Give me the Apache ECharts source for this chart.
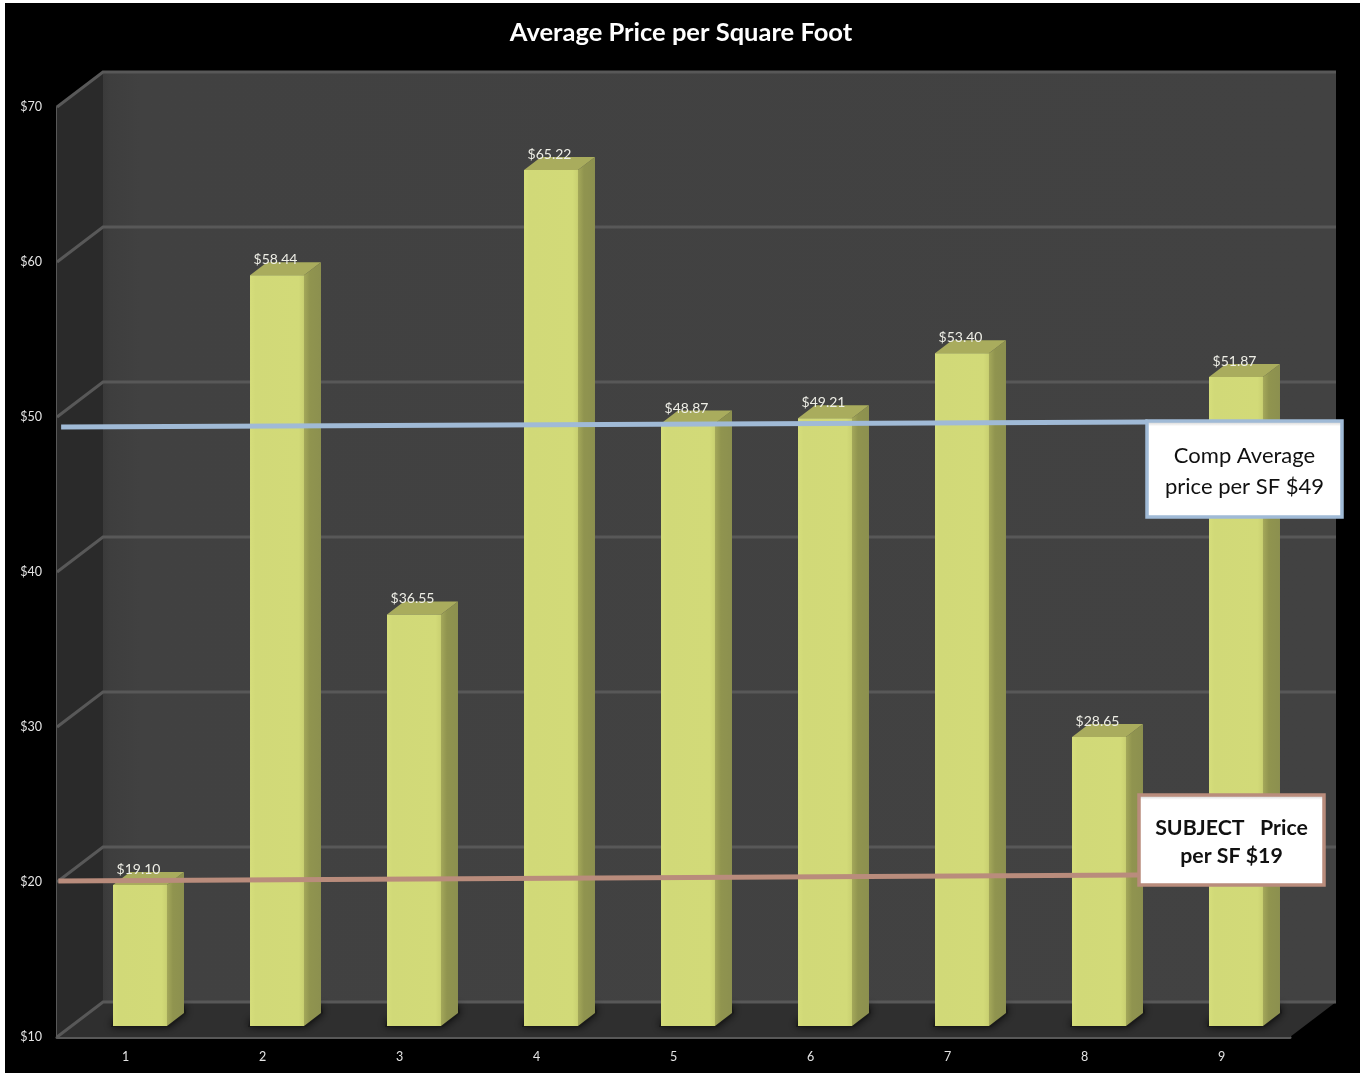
<!DOCTYPE html>
<html>
<head>
<meta charset="utf-8">
<style>
  html, body { margin: 0; padding: 0; background: #fff; }
  #chart { width: 1362px; height: 1074px; }
</style>
<script src="https://cdn.jsdelivr.net/npm/echarts@6/dist/echarts.min.js"></script>
</head>
<body>
<div id="chart"></div>
<script>
// Price per square foot for the nine comparables
const categories = ['1', '2', '3', '4', '5', '6', '7', '8', '9'];
const pricePerSf = [19.10, 58.44, 36.55, 65.22, 48.87, 49.21, 53.40, 28.65, 51.87];
const valueTicks = [10, 20, 30, 40, 50, 60, 70];

// Overlaid reference lines: [position along the categories, price]
const compAverageLine = [[0.03, 49.35], [7.96, 49.68]];
const subjectLine = [[0.01, 20.06], [7.89, 20.45]];

const chartTitle = 'Average Price per Square Foot';
const compLabel = ['Comp Average', 'price per SF $49'];
const subjectLabel = ['SUBJECT   Price', 'per SF $19'];

const FONT = 'Lato, "Open Sans", sans-serif';

// Box depth of the chart room and of each bar, in pixels
const ROOM = { dx: 46, dy: -35 };
const BAR = { dx: 17, dy: -13, shiftX: 14.5, shiftY: -11, widthRatio: 0.394 };

function poly(points, style, z2) {
  return { type: 'polygon', shape: { points }, style, z2: z2 || 0, silent: true };
}

// Left wall, floor and back wall of the room
function renderRoom(params) {
  const c = params.coordSys;
  const l = c.x, r = c.x + c.width, t = c.y, b = c.y + c.height;
  const d = ROOM;
  return {
    type: 'group',
    children: [
      poly([[l + d.dx, t + d.dy], [r + d.dx, t + d.dy], [r + d.dx, b + d.dy], [l + d.dx, b + d.dy]], {
        fill: { type: 'linear', x: 0, y: 0, x2: 1, y2: 0, colorStops: [
          { offset: 0, color: '#3a3a3a' }, { offset: 0.006, color: '#3e3e3e' }, { offset: 0.03, color: '#414141' }, { offset: 1, color: '#424242' }
        ] }
      }),
      poly([[l, t], [l + d.dx, t + d.dy], [l + d.dx, b + d.dy], [l, b]], { fill: '#2a2a2a' }, 1),
      poly([[l, b], [l + d.dx, b + d.dy], [r + d.dx, b + d.dy], [r, b]], { fill: '#2f2f2f' }, 1)
    ]
  };
}

// One gridline per tick, wrapping across the left wall and the back wall
function renderGridline(params, api) {
  const c = params.coordSys;
  const y = api.coord([0, api.value(0)])[1];
  const d = ROOM;
  return {
    type: 'polyline',
    silent: true,
    shape: { points: [[c.x, y], [c.x + d.dx, y + d.dy], [c.x + c.width + d.dx, y + d.dy]] },
    style: { stroke: '#585858', lineWidth: 3, fill: null }
  };
}

// A bar is a front face, a side face, a top face and its value label
function renderBar(params, api) {
  const idx = api.value(0);
  const val = api.value(1);
  const base = api.coord([idx, 10]);
  const top = api.coord([idx, val]);
  const w = api.size([1, 0])[0] * BAR.widthRatio;
  const x0 = base[0] + BAR.shiftX - w / 2, x1 = x0 + w;
  const yb = base[1] + BAR.shiftY, yt = top[1] + BAR.shiftY;
  const dx = BAR.dx, dy = BAR.dy;
  return {
    type: 'group',
    children: [
      // soft contact shadow on the floor
      poly([[x0 - 2, yb + 1], [x1 + 2, yb + 1], [x1 + dx + 2, yb + dy], [x1 + dx, yb + dy - 8], [x0, yb - 6]],
        { fill: '#1a1a1a', shadowBlur: 9, shadowColor: 'rgba(0,0,0,0.8)' }),
      poly([[x1, yt], [x1 + dx, yt + dy], [x1 + dx, yb + dy], [x1, yb]], {
        fill: { type: 'linear', x: 0, y: 0, x2: 1, y2: 0, colorStops: [
          { offset: 0, color: '#a4a85a' }, { offset: 0.35, color: '#90944f' }, { offset: 1, color: '#8c904f' }
        ] }
      }, 1),
      poly([[x0, yt], [x0 + dx, yt + dy], [x1 + dx, yt + dy], [x1, yt]], { fill: '#a9ac5d' }, 1),
      poly([[x0, yt], [x1, yt], [x1, yb], [x0, yb]], {
        fill: { type: 'linear', x: 0, y: 0, x2: 1, y2: 0, colorStops: [
          { offset: 0, color: '#d6de7b' }, { offset: 0.1, color: '#d1d978' }, { offset: 0.9, color: '#d2da78' }, { offset: 1, color: '#c9d071' }
        ] }
      }, 2),
      {
        type: 'text',
        silent: true,
        z2: 3,
        style: {
          text: '$' + val.toFixed(2),
          x: (x0 + x1) / 2 - 1.5,
          y: yt - 15.5,
          align: 'center',
          verticalAlign: 'middle',
          fill: '#eeeee6',
          font: '14px ' + FONT
        }
      }
    ]
  };
}

// White annotation box with a coloured border; children carry the z so they sit above the series
function callout(left, top, width, height, border, lines, lineGap, textStyle) {
  const midX = left + width / 2;
  const midY = top + height / 2 + 2;
  return [
    {
      type: 'rect',
      z: 20,
      silent: true,
      shape: { x: left, y: top, width, height },
      style: {
        fill: { type: 'linear', x: 0, y: 0, x2: 0, y2: 1, colorStops: [
          { offset: 0, color: '#b9b9b9' }, { offset: 0.07, color: '#ffffff' }, { offset: 1, color: '#ffffff' }
        ] },
        stroke: border,
        lineWidth: 3.5
      }
    }
  ].concat(lines.map((text, i) => ({
    type: 'text',
    z: 21,
    silent: true,
    style: Object.assign({
      text,
      x: midX,
      y: midY + (i - (lines.length - 1) / 2) * lineGap,
      align: 'center',
      verticalAlign: 'middle',
      fill: '#111'
    }, textStyle)
  })));
}

const chart = echarts.init(document.getElementById('chart'));

chart.setOption({
  animation: false,
  backgroundColor: '#fff',
  title: {
    text: chartTitle,
    left: 676,
    top: 28,
    textAlign: 'center',
    textVerticalAlign: 'middle',
    textStyle: { color: '#fff', fontFamily: FONT, fontWeight: 'bold', fontSize: 25.5 }
  },
  grid: { left: 57, right: 72, top: 107, bottom: 37 },
  xAxis: [
    {
      type: 'category',
      data: categories,
      axisLine: { lineStyle: { color: '#585858', width: 3 } },
      axisTick: { show: false },
      axisLabel: { color: '#e4e4e4', fontFamily: FONT, fontSize: 12.5, margin: 13 }
    },
    { type: 'value', min: 0, max: 9, show: false }
  ],
  yAxis: {
    type: 'value',
    min: 10,
    max: 70,
    interval: 10,
    axisLine: { show: true, lineStyle: { color: '#585858', width: 3 } },
    axisTick: { show: false },
    splitLine: { show: false },
    axisLabel: { color: '#e4e4e4', fontFamily: FONT, fontSize: 12.5, margin: 15, formatter: '${value}' }
  },
  series: [
    { type: 'custom', name: 'Room', renderItem: renderRoom, data: [[0]], z: 1, silent: true },
    { type: 'custom', name: 'Gridlines', renderItem: renderGridline, data: valueTicks.map(v => [v]), encode: { y: 0 }, z: 2, silent: true },
    { type: 'custom', name: 'Price per SF', renderItem: renderBar, data: pricePerSf.map((v, i) => [i, v]), encode: { x: 0, y: 1 }, z: 3, silent: true },
    {
      type: 'line', name: 'Comp average', xAxisIndex: 1, data: compAverageLine, showSymbol: false, z: 4, silent: true,
      lineStyle: { color: '#a0bad6', width: 5, cap: 'butt' }
    },
    {
      type: 'line', name: 'Subject', xAxisIndex: 1, data: subjectLine, showSymbol: false, z: 4, silent: true,
      lineStyle: { color: '#b98c7c', width: 5, cap: 'butt' }
    }
  ],
  graphic: [
    // black panel behind the whole chart, leaving a thin white margin
    { type: 'rect', z: -10, silent: true, shape: { x: 5, y: 3, width: 1355, height: 1070 }, style: { fill: '#000' } }
  ].concat(
    callout(1147, 421, 195, 96, '#a0bad6', compLabel, 31, { font: '22px ' + FONT }),
    callout(1139, 795, 185, 90, '#b98c7c', subjectLabel, 28.5, { font: 'bold 21.3px ' + FONT })
  )
});
</script>
</body>
</html>
